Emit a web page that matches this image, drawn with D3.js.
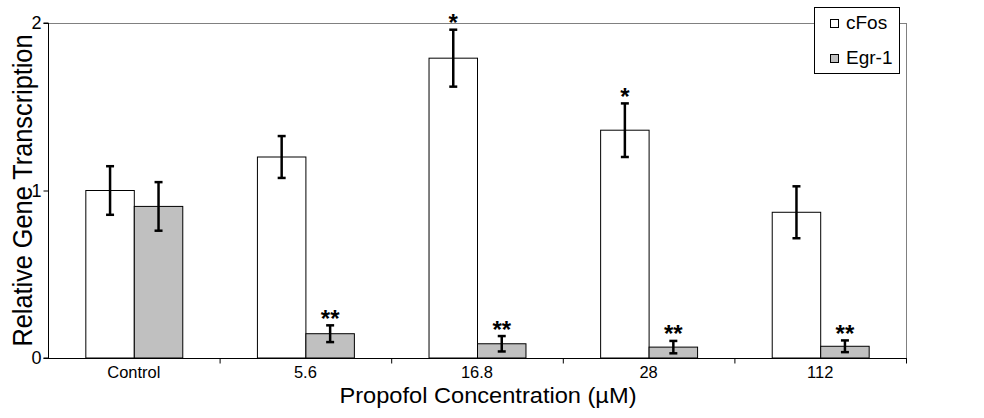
<!DOCTYPE html>
<html>
<head>
<meta charset="utf-8">
<script src="https://cdn.jsdelivr.net/npm/d3@7"></script>
<style>
  html, body { margin: 0; padding: 0; background: #fff; }
  svg { display: block; }
  text { font-family: "Liberation Sans", Arial, sans-serif; fill: #000; }
</style>
</head>
<body>
<svg id="chart" width="984" height="418"></svg>
<script>
// ---- data ----
const categories = ["Control", "5.6", "16.8", "28", "112"];
const seriesNames = ["cFos", "Egr-1"];
const cfosValues = [1.00, 1.20, 1.79, 1.36, 0.87];
const cfosErrors = [0.145, 0.125, 0.17, 0.16, 0.155];
const egrValues = [0.905, 0.145, 0.085, 0.065, 0.07];
const egrErrors = [0.145, 0.05, 0.046, 0.037, 0.035];
const cfosSig = ["", "", "*", "*", ""];
const egrSig = ["", "**", "**", "**", "**"];
const yTicks = [0, 1, 2];
const xTitle = "Propofol Concentration (\u00b5M)";
const yTitle = "Relative Gene Transcription";

const fills = { "cFos": "#ffffff", "Egr-1": "#c0c0c0" };

const svg = d3.select("#chart");
const mLeft = 48, mRight = 906, mTop = 23, mBottom = 358;

const x0 = d3.scaleBand().domain(categories).range([mLeft, mRight]).paddingInner(0).paddingOuter(0);
const x1 = d3.scaleBand().domain(seriesNames).range([0, x0.bandwidth()]).paddingInner(0).paddingOuter(0.77);
const y = d3.scaleLinear().domain([0, 2]).range([mBottom, mTop]);

const rows = categories.map((c, i) => ({
  cat: c,
  items: [
    { s: "cFos", v: cfosValues[i], e: cfosErrors[i], sig: cfosSig[i] },
    { s: "Egr-1", v: egrValues[i], e: egrErrors[i], sig: egrSig[i] }
  ]
}));

// plot frame (top & right in gray)
svg.append("line").attr("x1", mLeft).attr("x2", mRight).attr("y1", mTop + 0.5).attr("y2", mTop + 0.5)
  .attr("stroke", "#808080").attr("stroke-width", 1);
svg.append("line").attr("x1", mRight + 0.5).attr("x2", mRight + 0.5).attr("y1", mTop).attr("y2", mBottom)
  .attr("stroke", "#808080").attr("stroke-width", 1);

// bars
const g = svg.append("g");
const groups = g.selectAll("g.grp").data(rows).join("g")
  .attr("transform", d => `translate(${x0(d.cat)},0)`);

groups.selectAll("rect").data(d => d.items).join("rect")
  .attr("x", d => x1(d.s) + 0.5)
  .attr("y", d => y(d.v))
  .attr("width", x1.bandwidth())
  .attr("height", d => y(0) - y(d.v))
  .attr("fill", d => fills[d.s])
  .attr("stroke", "#000")
  .attr("stroke-width", 1);

// error bars
const capW = 4;
groups.selectAll("g.err").data(d => d.items).join("g").attr("class", "err")
  .each(function(d) {
    const cx = x1(d.s) + x1.bandwidth() / 2 + 0.5;
    const sel = d3.select(this);
    const yt = y(d.v + d.e), yb = y(d.v - d.e);
    sel.append("line").attr("x1", cx).attr("x2", cx).attr("y1", yt).attr("y2", yb)
      .attr("stroke", "#000").attr("stroke-width", 2.5);
    [yt, yb].forEach(yy => sel.append("line").attr("x1", cx - capW).attr("x2", cx + capW)
      .attr("y1", yy).attr("y2", yy).attr("stroke", "#000").attr("stroke-width", 2.5));
  });

// significance stars
const starFs = 24;
groups.selectAll("text.sig").data(d => d.items.filter(it => it.sig)).join("text")
  .attr("class", "sig")
  .attr("x", d => x1(d.s) + x1.bandwidth() / 2 + 0.5)
  .attr("y", d => y(d.v + d.e) - 11 + 0.52 * starFs)
  .attr("text-anchor", "middle")
  .style("font-size", starFs + "px")
  .style("font-weight", "bold")
  .text(d => d.sig);

// y axis
const yAxis = d3.axisLeft(y).tickValues(yTicks).tickSize(5).tickPadding(2).tickFormat(d3.format("d"));
const ya = svg.append("g").attr("transform", `translate(${mLeft + 0.5},0)`).call(yAxis);
ya.select(".domain").attr("stroke", "#000").attr("d", `M-5,${mBottom}H0V${mTop}H-5`);
ya.selectAll(".tick line").attr("stroke", "#000");
ya.selectAll(".tick text").style("font-size", "18px").style("font-family", "Liberation Sans, Arial, sans-serif");

// x axis
const xa = svg.append("g").attr("transform", `translate(0,${mBottom + 0.5})`);
xa.append("line").attr("x1", mLeft).attr("x2", mRight + 1).attr("stroke", "#000");
xa.selectAll("line.bt").data(categories).join("line").attr("class", "bt")
  .attr("x1", d => x0(d) + x0.bandwidth() + 0.5).attr("x2", d => x0(d) + x0.bandwidth() + 0.5)
  .attr("y1", 0).attr("y2", 5).attr("stroke", "#000");
xa.selectAll("text").data(categories).join("text")
  .attr("x", d => x0(d) + x0.bandwidth() / 2)
  .attr("y", 20)
  .attr("text-anchor", "middle")
  .style("font-size", "17px")
  .attr("transform", d => `translate(${x0(d) + x0.bandwidth() / 2},0) scale(0.97,1) translate(${-(x0(d) + x0.bandwidth() / 2)},0)`)
  .text(d => d);

// axis titles
svg.append("text").attr("x", 488).attr("y", 403)
  .attr("text-anchor", "middle").style("font-size", "22px")
  .attr("textLength", 297).attr("lengthAdjust", "spacingAndGlyphs")
  .text(xTitle);
svg.append("text").attr("transform", `translate(32,${(mTop + mBottom) / 2}) rotate(-90)`)
  .attr("text-anchor", "middle").style("font-size", "27px")
  .attr("textLength", 312).attr("lengthAdjust", "spacingAndGlyphs")
  .text(yTitle);

// legend
const lg = svg.append("g");
lg.append("rect").attr("x", 814.5).attr("y", 7.5).attr("width", 85).attr("height", 66)
  .attr("fill", "#fff").attr("stroke", "#000").attr("stroke-width", 1);
const legRows = lg.selectAll("g.li").data(seriesNames).join("g")
  .attr("transform", (d, i) => `translate(830,${19 + i * 35})`);
legRows.append("rect").attr("x", 0.5).attr("y", 0.5).attr("width", 8).attr("height", 8)
  .attr("fill", d => fills[d]).attr("stroke", "#000");
legRows.append("text").attr("x", 16).attr("y", 10).style("font-size", "19px")
  .text(d => d);
</script>
</body>
</html>
